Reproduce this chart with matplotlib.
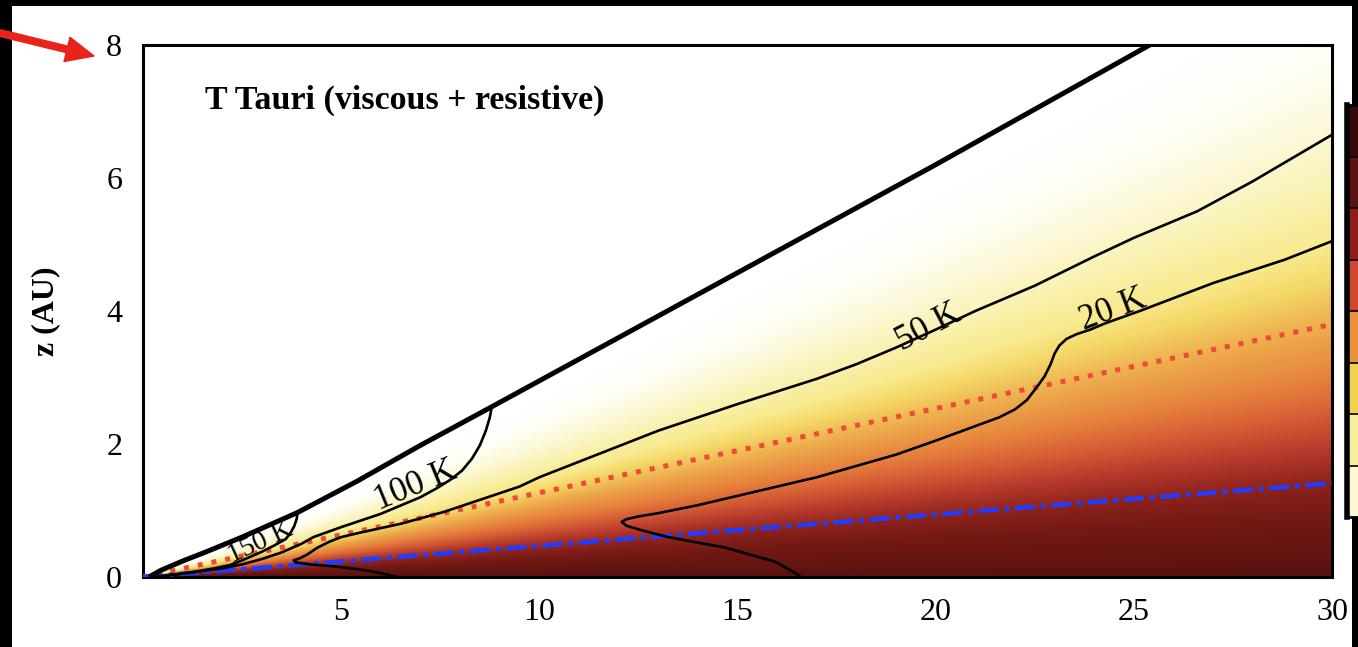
import numpy as np
import matplotlib
matplotlib.use("Agg")
import matplotlib.pyplot as plt
from matplotlib.colors import LinearSegmentedColormap
from matplotlib.patches import Rectangle, FancyArrowPatch, ArrowStyle
from matplotlib.transforms import blended_transform_factory

plt.rcParams['font.family'] = ['Liberation Serif', 'DejaVu Serif']

# ---------------- data ----------------
# disk surface (AU)
surface_r = [0.15, 0.45, 1.0, 1.6, 2.5, 3.9, 5.4, 7.0, 8.8, 12.0, 16.0, 20.0, 25.4]
surface_z = [0.0, 0.1, 0.24, 0.38, 0.6, 0.97, 1.44, 1.98, 2.56, 3.6, 4.9, 6.2, 8.0]

# temperature contours (AU)
t150_r = [3.9, 3.88, 3.82, 3.72, 3.6, 3.3, 3.0, 2.5, 2.2, 1.8, 1.3, 0.8, 0.3]
t150_z = [0.97, 0.88, 0.77, 0.66, 0.57, 0.47, 0.38, 0.25, 0.18, 0.13, 0.08, 0.04, 0.0]

t100_r = [8.8, 8.75, 8.65, 8.5, 8.3, 8.05, 7.75, 7.4, 7.0, 6.0, 5.0, 4.3, 4.0, 3.5,
          3.0, 2.5, 2.0, 1.0, 0.3]
t100_z = [2.56, 2.4, 2.2, 1.98, 1.78, 1.6, 1.46, 1.33, 1.2, 0.95, 0.75, 0.6, 0.5, 0.37,
          0.27, 0.19, 0.13, 0.05, 0.0]

t50_r = [30.0, 28.0, 26.6, 25.0, 24.0, 22.5, 21.0, 20.0, 19.0, 18.0, 17.0, 15.0, 13.0,
         11.5, 10.0, 9.5, 8.5, 7.6, 6.5, 5.5, 5.0, 4.7, 4.4, 4.15, 3.95, 3.8, 3.85,
         4.2, 4.8, 5.4, 5.9, 6.2, 6.4]
t50_z = [6.65, 5.95, 5.5, 5.1, 4.82, 4.38, 4.0, 3.72, 3.45, 3.2, 2.98, 2.6, 2.2,
         1.85, 1.5, 1.36, 1.16, 0.98, 0.8, 0.67, 0.6, 0.53, 0.44, 0.34, 0.28, 0.25, 0.22,
         0.19, 0.16, 0.12, 0.07, 0.03, 0.0]

t20_r = [30.0, 28.8, 27.0, 25.15, 24.3, 23.9, 23.55, 23.3, 23.12, 23.0, 22.9, 22.75,
         22.56, 22.3, 22.0, 21.6, 20.0, 19.0, 17.0, 15.0, 14.0, 13.0, 12.5, 12.2, 12.08,
         12.2, 12.6, 13.25, 14.7, 15.95, 16.4, 16.6]
t20_z = [5.05, 4.77, 4.42, 4.0, 3.82, 3.72, 3.65, 3.58, 3.48, 3.36, 3.2, 3.02,
         2.86, 2.66, 2.52, 2.4, 2.05, 1.84, 1.5, 1.22, 1.08, 0.96, 0.91, 0.87, 0.83,
         0.77, 0.7, 0.6, 0.44, 0.23, 0.08, 0.0]

# reference lines (AU)
dotted_r = [0.0, 30.0]
dotted_z = [0.0, 3.8]
dashdot_r = [0.0, 30.0]
dashdot_z = [0.0, 1.41]

# contour labels: text, anchor r, anchor z, local slope (dz/dr), size
label_text = ['150 K', '100 K', '50 K', '20 K']
label_r = [2.25, 5.95, 19.15, 23.75]
label_z = [0.21, 1.0, 3.4, 3.72]
label_slope = [0.275, 0.245, 0.31, 0.225]
label_size = [20, 25, 25, 25]

# colour stops of the density shading (value, colour)
shade_vals = [0.0, 0.03, 0.047, 0.065, 0.082, 0.099, 0.127, 0.149, 0.167, 0.2, 0.23, 0.26, 0.3]
shade_cols = ['#5a120f', '#741915', '#8e221d', '#b83c2c', '#d65e36', '#e6803c', '#eeae4e',
              '#f4d868', '#f8ea8e', '#faf3b8', '#fdf9dc', '#fffef4', '#ffffff']

# colour bar segments, top to bottom
cbar_cols = ['#360808', '#5c1210', '#8e1e1a', '#d0482a', '#e8913a', '#f2d050', '#f8ef9c', '#fcf8d6']

xticks = [5, 10, 15, 20, 25, 30]
yticks = [0, 2, 4, 6, 8]

# ---------------- figure ----------------
W, H = 1358, 647
fig = plt.figure(figsize=(W / 100, H / 100), dpi=100)
fig.patch.set_facecolor('white')

ax = fig.add_axes([143 / W, 1 - 577 / H, (1332 - 143) / W, (577 - 45) / H])
ax.set_xlim(0, 30)
ax.set_ylim(0, 8)

# density shading: function of height over radius
rr = np.linspace(0.0, 30.0, 900)
zz = np.linspace(0.0, 8.0, 500)
R, Z = np.meshgrid(rr, zz)
Rc = np.clip(R, 0.05, None)
S = (Z / Rc) * (30.0 / Rc) ** 0.12
cmap = LinearSegmentedColormap.from_list(
    'disk', [(v / shade_vals[-1], c) for v, c in zip(shade_vals, shade_cols)])
ax.imshow(S, extent=[0, 30, 0, 8], origin='lower', cmap=cmap, vmin=0,
          vmax=shade_vals[-1], aspect='auto', interpolation='bilinear', zorder=0)

# reference lines
ax.plot(dotted_r, dotted_z, color='#f0483a', lw=3.6, ls=(0, (1.0, 1.8)),
        solid_capstyle='butt', dash_capstyle='butt', zorder=3)
ax.plot(dashdot_r, dashdot_z, color='#1f3dff', lw=3.2,
        ls=(0, (4.5, 1.3, 1.1, 1.3)), dash_capstyle='butt', zorder=3)

# contours and surface
for r, z in [(t150_r, t150_z), (t100_r, t100_z), (t50_r, t50_z), (t20_r, t20_z)]:
    ax.plot(r, z, color='black', lw=1.9, zorder=4, solid_joinstyle='round')
ax.plot(surface_r, surface_z, color='black', lw=3.6, zorder=5, solid_capstyle='butt')

# labels along the contours
sx = ax.get_window_extent().width / 30.0
sy = ax.get_window_extent().height / 8.0
for t, r0, z0, s, fs in zip(label_text, label_r, label_z, label_slope, label_size):
    ang = np.degrees(np.arctan2(s * sy, sx))
    ax.text(r0, z0, t, fontsize=fs, rotation=ang, rotation_mode='anchor',
            ha='left', va='baseline', zorder=6)

ax.text(1.56, 7.17, 'T Tauri (viscous + resistive)', fontsize=24.5,
        fontweight='bold', ha='left', va='center', zorder=6)

ax.set_xticks(xticks)
ax.set_yticks(yticks)
ax.tick_params(length=0, labelsize=23)
ax.tick_params(axis='x', pad=15)
ax.tick_params(axis='y', pad=15)
ax.set_ylabel('z (AU)', fontsize=23, fontweight='bold')
ax.yaxis.set_label_coords(-0.07, 0.5)
for sp in ax.spines.values():
    sp.set_linewidth(2.2)

# tick labels of the panel above, cut by the top edge
btr = blended_transform_factory(ax.transData, fig.transFigure)
for xv in xticks:
    fig.text(xv, 1 - 12 / H, str(xv), transform=btr, fontsize=23,
             ha='center', va='bottom', zorder=1)

# colour bar on the right
cax = fig.add_axes([1347 / W, 1 - 517 / H, 40 / W, (517 - 105) / H], zorder=6)
n = len(cbar_cols)
for i, c in enumerate(cbar_cols):
    cax.axhspan(n - 1 - i, n - i, color=c, lw=0)
for i in range(1, n):
    cax.axhline(i, color='black', lw=1.2)
cax.set_ylim(0, n)
cax.set_xlim(0, 1)
cax.set_xticks([])
cax.set_yticks([])
for sp in cax.spines.values():
    sp.set_linewidth(2.0)
cax.spines['left'].set_linewidth(4.0)

# dark borders of the surrounding screen
for (x0, y0, w, h) in [(0, 0, 12, H), (0, 0, W, 6), (1352, 0, 6, H)]:
    fig.add_artist(Rectangle((x0 / W, 1 - (y0 + h) / H), w / W, h / H,
                             transform=fig.transFigure, color='black', lw=0, zorder=5))

# pointer arrow
arrow = FancyArrowPatch(posA=(0, H - 33), posB=(94, H - 56), transform=None,
                        arrowstyle=ArrowStyle.Simple(head_length=1.0, head_width=0.9,
                                                     tail_width=0.24),
                        mutation_scale=20, color='#e8231b', shrinkA=0, shrinkB=0,
                        zorder=7)
fig.add_artist(arrow)

fig.savefig('out.png', dpi=100)
